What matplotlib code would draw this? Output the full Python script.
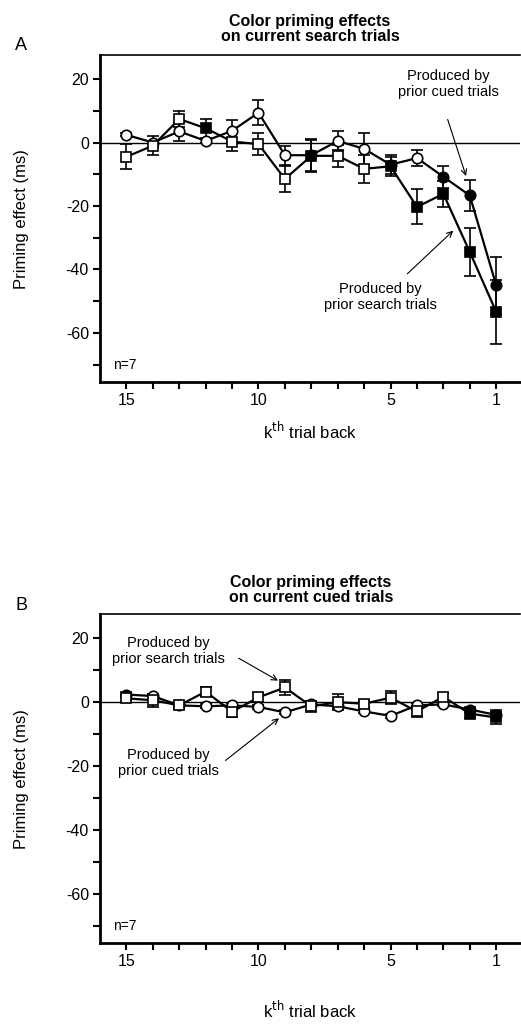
import numpy as np
import matplotlib
matplotlib.use('Agg')
import matplotlib.pyplot as plt

plt.rcParams['font.family'] = ['Liberation Sans', 'DejaVu Sans']
plt.rcParams['axes.unicode_minus'] = False

# kth trial back
k = np.arange(15, 0, -1)

# panel A: current search trials
a_cued = np.array([2.4, 0, 3.5, 0.5, 3.7, 9.4, -4, -4, 0.5, -2, -7, -4.9, -10.8, -16.7, -45])
a_cued_err = np.array([0.5, 0.5, 3, 0.5, 3.5, 4, 3, 5, 3, 5, 3, 2.5, 3.5, 5, 9])
a_cued_filled = [5, 3, 2, 1]
a_search = np.array([-4.5, -1, 7.4, 4.5, 0.3, -0.5, -11.5, -4.2, -4.2, -8.3, -7.5, -20.3, -16.2, -34.5, -53.4])
a_search_err = np.array([4, 3, 2.5, 3, 3, 3.5, 4, 5, 3.5, 4.5, 3, 5.5, 4, 7.5, 10])
a_search_filled = [12, 8, 5, 4, 3, 2, 1]

# panel B: current cued trials
b_cued = np.array([2.4, 1.9, -1, -1.3, -1, -1.5, -3.2, -0.7, -1.3, -2.9, -4.3, -1, -0.7, -2.3, -4])
b_cued_err = np.array([0.8, 0.8, 0.6, 0.6, 0.6, 0.6, 0.6, 0.6, 0.6, 0.6, 0.6, 0.6, 0.6, 0.8, 1])
b_cued_filled = [15, 2, 1]
b_search = np.array([1.2, 0.6, -1, 3.3, -3, 1.5, 4.6, -1.3, 0, -0.5, 1.4, -2.9, 1.7, -3.6, -4.8])
b_search_err = np.array([1, 2, 1, 1.3, 1.5, 1.5, 2.5, 1.7, 2.5, 1, 2, 1.8, 1.2, 1.3, 2.2])
b_search_filled = [2, 1]


def draw_series(ax, y, err, filled, marker, ms):
    ax.errorbar(k, y, yerr=err, fmt='none', ecolor='k', elinewidth=1.2, capsize=4, capthick=1.2, zorder=2)
    ax.plot(k, y, '-', color='k', lw=1.6, zorder=3)
    mask = np.isin(k, filled)
    ax.plot(k[~mask], y[~mask], marker, ms=ms, mfc='white', mec='k', mew=1.2, ls='none', zorder=4)
    ax.plot(k[mask], y[mask], marker, ms=ms, mfc='k', mec='k', mew=1.2, ls='none', zorder=4)


def setup(ax):
    ax.set_xlim(16, 0.1)
    ax.set_ylim(-75.5, 27.5)
    ax.axhline(0, color='k', lw=1, zorder=1)
    ax.set_xticks(k)
    ax.set_xticklabels([str(v) if v in (15, 10, 5, 1) else '' for v in k])
    ax.set_yticks([20, 0, -20, -40, -60])
    ax.set_yticks([10, -10, -30, -50, -70], minor=True)
    ax.tick_params(axis='both', which='both', direction='out', length=5, width=1.5, labelsize=11.5, pad=3)
    ax.spines['left'].set_linewidth(2)
    ax.spines['bottom'].set_linewidth(2)
    ax.spines['top'].set_linewidth(1.2)
    ax.spines['right'].set_visible(False)
    ax.set_ylabel('Priming effect (ms)', fontsize=12)
    ax.yaxis.set_label_coords(-0.17, 0.5)
    ax.text(0.03, 0.04, 'n=7', transform=ax.transAxes, fontsize=10)


fig = plt.figure(figsize=(5.21, 10.24), dpi=100)

axA = fig.add_axes([0.192, 0.627, 0.806, 0.319])
setup(axA)
draw_series(axA, a_cued, a_cued_err, a_cued_filled, 'o', 7.5)
draw_series(axA, a_search, a_search_err, a_search_filled, 's', 6.5)
axA.set_xlabel('k$^{\\rm th}$ trial back', fontsize=12, labelpad=9)
axA.text(2.82, 18.5, 'Produced by\nprior cued trials', ha='center', va='center', fontsize=10.5)
axA.annotate('', xy=(2.11, -11.4), xytext=(2.87, 8.1),
             arrowprops=dict(arrowstyle='->', color='k', lw=0.8))
axA.text(5.39, -48.6, 'Produced by\nprior search trials', ha='center', va='center', fontsize=10.5)
axA.annotate('', xy=(2.55, -27.2), xytext=(4.44, -42),
             arrowprops=dict(arrowstyle='->', color='k', lw=0.8))

axB = fig.add_axes([0.192, 0.079, 0.806, 0.321])
setup(axB)
draw_series(axB, b_cued, b_cued_err, b_cued_filled, 'o', 7.5)
draw_series(axB, b_search, b_search_err, b_search_filled, 's', 6.5)
axB.set_xlabel('k$^{\\rm th}$ trial back', fontsize=12, labelpad=22)
axB.text(13.4, 16.1, 'Produced by\nprior search trials', ha='center', va='center', fontsize=10.5)
axB.annotate('', xy=(9.17, 6.3), xytext=(10.84, 14.2),
             arrowprops=dict(arrowstyle='->', color='k', lw=0.8))
axB.text(13.4, -19.1, 'Produced by\nprior cued trials', ha='center', va='center', fontsize=10.5)
axB.annotate('', xy=(9.14, -4.5), xytext=(11.33, -18.8),
             arrowprops=dict(arrowstyle='->', color='k', lw=0.8))

fig.text(0.595, 0.972, 'Color priming effects\non current search trials', ha='center', va='center',
         fontsize=11.5, fontweight='bold', linespacing=1.0)
fig.text(0.029, 0.956, 'A', fontsize=13, ha='left', va='center')
fig.text(0.597, 0.424, 'Color priming effects\non current cued trials', ha='center', va='center',
         fontsize=11.5, fontweight='bold', linespacing=1.0)
fig.text(0.029, 0.409, 'B', fontsize=13, ha='left', va='center')

fig.savefig('out.png', dpi=100)
